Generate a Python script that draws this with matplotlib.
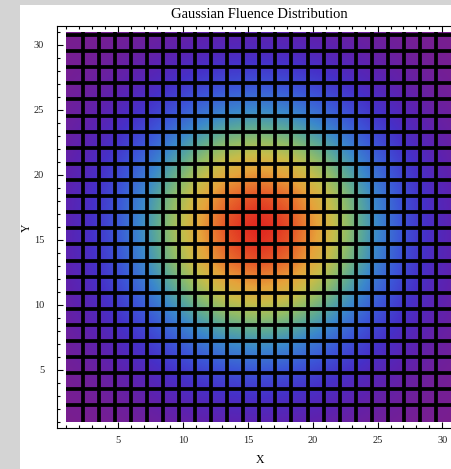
import numpy as np
import matplotlib
matplotlib.use("Agg")
import matplotlib.pyplot as plt
from matplotlib.colors import LinearSegmentedColormap
from matplotlib.patches import Rectangle
from matplotlib.ticker import MultipleLocator

# sample grid (mesh line positions)
grid_x = [1.0, 2.24, 3.48, 4.72, 5.96, 7.2, 8.44, 9.68, 10.92, 12.16, 13.4, 14.64, 15.88,
          17.12, 18.36, 19.6, 20.84, 22.08, 23.32, 24.56, 25.8, 27.04, 28.28, 29.52, 30.76, 32.0]
grid_y = [1.0, 2.24, 3.48, 4.72, 5.96, 7.2, 8.44, 9.68, 10.92, 12.16, 13.4, 14.64, 15.88,
          17.12, 18.36, 19.6, 20.84, 22.08, 23.32, 24.56, 25.8, 27.04, 28.28, 29.52, 30.76, 32.0]

# relative fluence along the centre row / column (estimated from the colours)
x_profile = [0.09, 0.13, 0.19, 0.26, 0.35, 0.44, 0.55, 0.66, 0.77, 0.86, 0.94, 0.98, 1.00,
             0.98, 0.94, 0.86, 0.77, 0.66, 0.55, 0.44, 0.35, 0.26, 0.19, 0.13, 0.09, 0.06]
y_profile = [0.09, 0.13, 0.19, 0.26, 0.35, 0.44, 0.55, 0.66, 0.77, 0.86, 0.94, 0.98, 1.00,
             0.98, 0.94, 0.86, 0.77, 0.66, 0.55, 0.44, 0.35, 0.26, 0.19, 0.13, 0.09, 0.06]

x_ticks = [5, 10, 15, 20, 25, 30]
y_ticks = [5, 10, 15, 20, 25, 30]

fluence = np.outer(y_profile, x_profile)

rainbow = LinearSegmentedColormap.from_list("mma_rainbow", [
    (0.00, "#7a1e8e"), (0.08, "#5c22b0"), (0.16, "#4630c8"), (0.27, "#3c56d8"),
    (0.40, "#3a88cc"), (0.50, "#5aa898"), (0.60, "#90bc68"), (0.70, "#c8bc48"),
    (0.80, "#e6a23a"), (0.90, "#e86a2c"), (1.00, "#e0261f")])

plt.rcParams["font.family"] = ["Liberation Serif", "DejaVu Serif"]

fig = plt.figure(figsize=(4.51, 4.69), dpi=100, facecolor="#d4d4d4")
fig.patches.append(Rectangle((20 / 451, 0), 1, 464 / 469, transform=fig.transFigure,
                             facecolor="white", edgecolor="none", zorder=-10))

ax = fig.add_axes([56.7 / 451, 41 / 469, 408.4 / 451, 402 / 469])
ax.set_facecolor("white")

dx = grid_x[1] - grid_x[0]
dy = grid_y[1] - grid_y[0]
clip = Rectangle((1, 1), 30, 30, transform=ax.transData)

im = ax.imshow(fluence, origin="lower", cmap=rainbow, aspect="auto",
               interpolation="bilinear",
               vmin=fluence.min(), vmax=fluence.max(),
               extent=[grid_x[0] - dx / 2, grid_x[-1] + dx / 2,
                       grid_y[0] - dy / 2, grid_y[-1] + dy / 2])
im.set_clip_path(clip)

# mesh lines (skip the boundary lines)
xs = [g for g in grid_x[1:] if g < 31]
ys = [g for g in grid_y[1:] if g < 31]
vl = ax.vlines(xs, 1, 31, colors="black", linewidth=2.7)
hl = ax.hlines(ys, 1, 31, colors="black", linewidth=2.7)
vl.set_clip_path(clip)
hl.set_clip_path(clip)

ax.set_xlim(0.245, 31.755)
ax.set_ylim(0.5, 31.46)

ax.set_xticks(x_ticks)
ax.set_yticks(y_ticks)
ax.xaxis.set_minor_locator(MultipleLocator(1))
ax.yaxis.set_minor_locator(MultipleLocator(1))
ax.tick_params(which="both", direction="in", top=True, right=True,
               labelsize=7.5, width=0.8, color="black", labelcolor="#222222")
ax.tick_params(which="major", length=4.5)
ax.tick_params(which="minor", length=2.5)
ax.tick_params(axis="x", which="major", pad=6)
ax.tick_params(axis="y", which="major", pad=9)
for s in ax.spines.values():
    s.set_linewidth(0.8)

fig.text(259 / 451, 1 - 15 / 469, "Gaussian Fluence Distribution",
         ha="center", va="center", fontsize=10.5)
fig.text(260 / 451, 1 - 460 / 469, "X", ha="center", va="center", fontsize=8.5)
fig.text(27 / 451, 1 - 228 / 469, "Y", ha="center", va="center", fontsize=8.5,
         rotation=90)

fig.savefig("out.png", dpi=100, facecolor=fig.get_facecolor())
